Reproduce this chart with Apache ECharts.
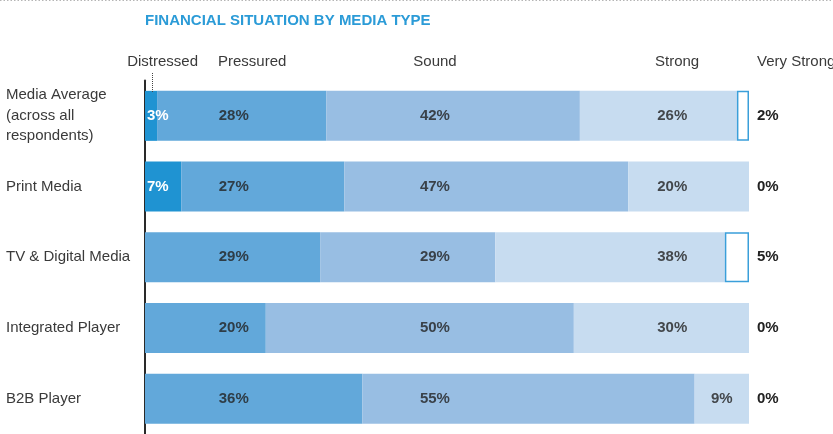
<!DOCTYPE html>
<html>
<head>
<meta charset="utf-8">
<script src="https://cdn.jsdelivr.net/npm/echarts@6/dist/echarts.min.js"></script>
<style>
html,body{margin:0;padding:0;background:#fff;}
#chart{width:833px;height:434px;}
</style>
</head>
<body>
<div id="chart"></div>
<script>
// ---- Data ----
var categories = ['Media Average\n(across all\nrespondents)', 'Print Media', 'TV & Digital Media', 'Integrated Player', 'B2B Player'];
var headers = ['Distressed', 'Pressured', 'Sound', 'Strong', 'Very Strong'];
// bar lengths as drawn (share of each row, %)
var distressed = [2, 6, 0, 0, 0];
var pressured  = [28, 27, 29, 20, 36];
var sound      = [42, 47, 29, 51, 55];
var strong     = [26, 20, 38, 29, 9];
var veryStrong = [2, 0, 4, 0, 0];
// printed percentages
var distressedLabel = ['3%', '7%', '', '', ''];
var pressuredLabel  = ['28%', '27%', '29%', '20%', '36%'];
var soundLabel      = ['42%', '47%', '29%', '50%', '55%'];
var strongLabel     = ['26%', '20%', '38%', '30%', '9%'];
var veryStrongLabel = ['2%', '0%', '5%', '0%', '0%'];

// ---- Styling / layout ----
var FONT = '"Liberation Sans", Arial, Helvetica, sans-serif';
var colors = ['#1F93D2', '#62A8DA', '#98BEE3', '#C7DCF0', '#FFFFFF'];
var labelColumns = { pressured: 14.7, sound: 48.0, strong: 87.3 }; // axis units

var chart = echarts.init(document.getElementById('chart'), null, {renderer: 'canvas'});

function labelLayer(name, vals, labels, col, starts) {
  var data = vals.map(function (v, i) {
    var s = starts[i], e = s + v;
    var x = (col >= s + 3 && col <= e - 3) ? col : (s + e) / 2;
    return { value: [x, categories[i]], lbl: labels[i] };
  });
  return {
    type: 'scatter', name: name + ' labels', data: data, symbolSize: 1,
    itemStyle: { color: 'rgba(0,0,0,0)' }, silent: true, z: 5, clip: false,
    label: {
      show: true, position: 'inside', color: '#222', fontFamily: FONT,
      fontSize: 15, fontWeight: 'bold',
      formatter: function (p) { return p.data.lbl; }
    }
  };
}

var startPressured = distressed.slice();
var startSound = distressed.map(function (d, i) { return d + pressured[i]; });
var startStrong = startSound.map(function (d, i) { return d + sound[i]; });

var barBase = { type: 'bar', stack: 'total', barWidth: 50, silent: true };

var option = {
  animation: false,
  backgroundColor: '#fff',
  title: {
    text: 'FINANCIAL SITUATION BY MEDIA TYPE', left: 145, top: 13, padding: 0,
    textStyle: { color: '#2B9BD7', fontSize: 15, fontWeight: 'bold', fontFamily: FONT }
  },
  grid: { left: 145, right: 84, top: 80.5, bottom: -4, containLabel: false },
  xAxis: { type: 'value', min: 0, max: 100, show: false },
  yAxis: {
    type: 'category', data: categories, inverse: true,
    axisLine: { show: true, lineStyle: { color: '#2a2a2a', width: 2 } },
    axisTick: { show: false },
    axisLabel: { align: 'left', margin: 139, color: '#3a3a3a', fontSize: 15, lineHeight: 20.5, fontFamily: FONT }
  },
  series: [
    Object.assign({}, barBase, {
      name: headers[0], data: distressed, itemStyle: { color: colors[0] },
      label: { show: true, position: 'insideLeft', distance: 2, color: '#fff', fontSize: 15, fontWeight: 'bold', fontFamily: FONT,
        formatter: function (p) { return distressedLabel[p.dataIndex]; } }
    }),
    Object.assign({}, barBase, { name: headers[1], data: pressured, itemStyle: { color: colors[1] } }),
    Object.assign({}, barBase, { name: headers[2], data: sound, itemStyle: { color: colors[2] } }),
    Object.assign({}, barBase, { name: headers[3], data: strong, itemStyle: { color: colors[3] } }),
    Object.assign({}, barBase, {
      name: headers[4],
      data: veryStrong.map(function (v) {
        return { value: v, itemStyle: v > 0 ? { color: '#fff', borderColor: '#3A9FDA', borderWidth: 1.5 } : { color: '#fff', borderWidth: 0 } };
      }),
      label: { show: true, position: 'right', distance: 8, color: '#222', fontSize: 15, fontWeight: 'bold', fontFamily: FONT,
        formatter: function (p) { return veryStrongLabel[p.dataIndex]; } }
    }),
    labelLayer('pressured', pressured, pressuredLabel, labelColumns.pressured, startPressured),
    labelLayer('sound', sound, soundLabel, labelColumns.sound, startSound),
    labelLayer('strong', strong, strongLabel, labelColumns.strong, startStrong)
  ],
  graphic: [
    { type: 'line', shape: { x1: 0, y1: 0.5, x2: 833, y2: 0.5 }, style: { stroke: '#b5b5b5', lineWidth: 1, lineDash: [1.5, 2] }, z: 10 },
    { type: 'text', x: 198, y: 62, style: { text: headers[0], fill: '#3a3a3a', font: '15px ' + FONT, textAlign: 'right', textVerticalAlign: 'middle' } },
    { type: 'text', x: 218, y: 62, style: { text: headers[1], fill: '#3a3a3a', font: '15px ' + FONT, textAlign: 'left', textVerticalAlign: 'middle' } },
    { type: 'text', x: 435, y: 62, style: { text: headers[2], fill: '#3a3a3a', font: '15px ' + FONT, textAlign: 'center', textVerticalAlign: 'middle' } },
    { type: 'text', x: 655, y: 62, style: { text: headers[3], fill: '#3a3a3a', font: '15px ' + FONT, textAlign: 'left', textVerticalAlign: 'middle' } },
    { type: 'text', x: 757, y: 62, style: { text: headers[4], fill: '#3a3a3a', font: '15px ' + FONT, textAlign: 'left', textVerticalAlign: 'middle' } },
    { type: 'line', shape: { x1: 152.5, y1: 73, x2: 152.5, y2: 93 }, style: { stroke: '#444', lineWidth: 1, lineDash: [1, 1] }, z: 10 }
  ]
};
chart.setOption(option);
</script>
</body>
</html>
